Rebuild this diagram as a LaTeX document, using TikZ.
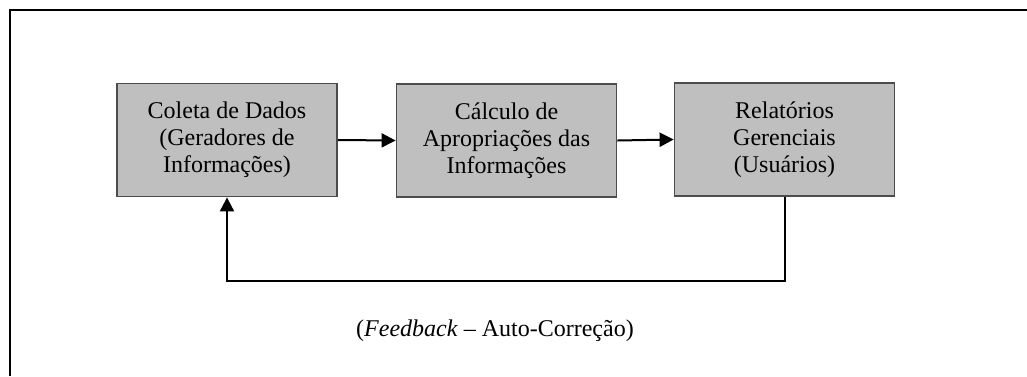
\documentclass[tikz,border=0pt]{standalone}
\usepackage{fontspec}
\setmainfont{Liberation Serif}
\usetikzlibrary{arrows.meta}
\begin{document}
\begin{tikzpicture}[x=0.5pt,y=-0.5pt,
  box/.style={draw=black!70, line width=0.9pt, fill=black!25, minimum width=110pt, minimum height=56.5pt,
    align=center, inner sep=0pt, font={\fontsize{12}{13.5}\selectfont}},
  arr/.style={line width=1pt, -{Triangle[length=7pt,width=7pt]}},
  lbl/.style={font={\fontsize{12}{13.5}\selectfont}, inner sep=0pt}]
\useasboundingbox (0,0) rectangle (1027,376);
\fill[white] (0,0) rectangle (1027,376);
\draw[line width=1pt] (10,376) -- (10,10) -- (1027,10);
\node[box] (b1) at (227,140) {Coleta de Dados\\(Geradores de\\Informações)};
\node[box] (b2) at (506.5,140.5) {Cálculo de\\Apropriações das\\Informações};
\node[box] (b3) at (784.5,139.5) {Relatórios\\Gerenciais\\(Usuários)};
\draw[arr] (b1.east) -- (b2.west);
\draw[arr] (b2.east) -- (b3.west);
\draw[arr] (b3.south) -- ++(0,84) -| (b1.south);
\node[lbl] (fb) at (495,331) {(\textit{Feedback} – Auto-Correção)};
\end{tikzpicture}
\end{document}
